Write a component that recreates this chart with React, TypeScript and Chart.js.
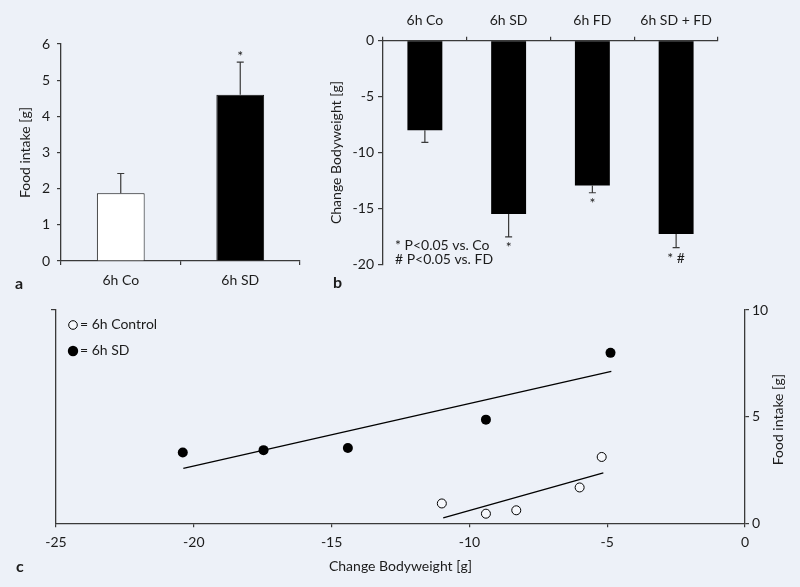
import React, { useEffect, useRef } from "react";
import { Chart, registerables } from "chart.js";

Chart.register(...registerables);

const FONT = "Lato";
const BG = "#edf1f8";
const AXIS = "#3a3a3a";
const TEXT = "#1c1c1c";

// ---- Panel a: food intake ----
const aCategories = ["6h Co", "6h SD"];
const aMeans = [1.87, 4.6];
const aErrors = [0.55, 0.9];
const aSig = ["", "*"];
const aColors = ["#ffffff", "#000000"];

// ---- Panel b: change in bodyweight ----
const bCategories = ["6h Co", "6h SD", "6h FD", "6h SD + FD"];
const bMeans = [-8.0, -15.5, -12.95, -17.3];
const bErrors = [1.1, 2.05, 0.65, 1.2];
const bSig = ["", "*", "*", "* #"];
const bLegend = ["* P<0.05 vs. Co", "# P<0.05 vs. FD"];

// ---- Panel c: correlation ----
const cControlX = [-11.0, -9.4, -8.3, -6.0, -5.2];
const cControlY = [0.93, 0.45, 0.61, 1.68, 3.11];
const cSdX = [-20.4, -17.47, -14.41, -9.4, -4.88];
const cSdY = [3.32, 3.43, 3.53, 4.86, 7.99];
const cControlFitX = [-10.95, -5.14];
const cControlFitY = [0.26, 2.36];
const cSdFitX = [-20.38, -4.85];
const cSdFitY = [2.57, 7.12];
const cLegend = ["= 6h Control", "= 6h SD"];

Chart.defaults.font.family = FONT;
Chart.defaults.color = TEXT;

function barExtras(
  id: string,
  means: number[],
  errors: number[],
  sigs: string[],
  dir: number,
  extra: (ctx: CanvasRenderingContext2D, chart: any) => void
) {
  return {
    id,
    afterDatasetsDraw(chart: any) {
      const ctx: CanvasRenderingContext2D = chart.ctx;
      const meta = chart.getDatasetMeta(0);
      const ys = chart.scales.y;
      ctx.save();
      ctx.strokeStyle = AXIS;
      ctx.lineWidth = 1.2;
      ctx.fillStyle = TEXT;
      ctx.font = `14px ${FONT}`;
      ctx.textAlign = "center";
      ctx.textBaseline = "alphabetic";
      means.forEach((m, i) => {
        const x = meta.data[i].x;
        const y0 = ys.getPixelForValue(m);
        const y1 = ys.getPixelForValue(m + dir * errors[i]);
        ctx.beginPath();
        ctx.moveTo(x, y0);
        ctx.lineTo(x, y1);
        ctx.moveTo(x - 3.5, y1);
        ctx.lineTo(x + 3.5, y1);
        ctx.stroke();
        if (sigs[i]) {
          ctx.fillText(sigs[i], x, dir > 0 ? y1 - 1 : y1 + 15);
        }
      });
      extra(ctx, chart);
      ctx.restore();
    },
  };
}

function PanelA() {
  const ref = useRef<HTMLCanvasElement>(null);
  useEffect(() => {
    const chart = new Chart(ref.current as HTMLCanvasElement, {
      type: "bar",
      data: {
        labels: aCategories,
        datasets: [
          {
            data: aMeans,
            backgroundColor: aColors,
            borderColor: "#111111",
            borderWidth: 1,
            barPercentage: 0.8,
            categoryPercentage: 0.5,
          },
        ],
      },
      options: {
        animation: false,
        responsive: false,
        layout: { padding: { top: 44, right: 10, left: 0, bottom: 0 } },
        plugins: { legend: { display: false }, tooltip: { enabled: false } },
        scales: {
          x: {
            grid: { drawOnChartArea: false, offset: true, tickLength: 4, color: AXIS, lineWidth: 1.2 },
            border: { color: AXIS, width: 1.3 },
            ticks: { color: TEXT, font: { size: 14 }, padding: 7 },
            afterFit: (s: any) => {
              s.height = 39;
            },
          },
          y: {
            min: 0,
            max: 6,
            grid: { drawOnChartArea: false, tickLength: 4, color: AXIS, lineWidth: 1.2 },
            border: { color: AXIS, width: 1.3 },
            ticks: { stepSize: 1, color: TEXT, font: { size: 14 }, padding: 7 },
            title: {
              display: true,
              text: "Food intake [g]",
              color: TEXT,
              font: { size: 14 },
              padding: { top: 17, bottom: 0 },
            },
            afterFit: (s: any) => {
              s.width = 61;
            },
          },
        },
      } as any,
      plugins: [
        barExtras("extrasA", aMeans, aErrors, aSig, 1, (ctx) => {
          ctx.font = `bold 16px ${FONT}`;
          ctx.textAlign = "left";
          ctx.fillText("a", 15, 289);
        }),
      ],
    });
    return () => chart.destroy();
  }, []);
  return <canvas ref={ref} width={310} height={300} style={{ position: "absolute", left: 0, top: 0 }} />;
}

function PanelB() {
  const ref = useRef<HTMLCanvasElement>(null);
  useEffect(() => {
    const chart = new Chart(ref.current as HTMLCanvasElement, {
      type: "bar",
      data: {
        labels: bCategories,
        datasets: [
          {
            data: bMeans,
            backgroundColor: "#000000",
            borderColor: "#000000",
            borderWidth: 0,
            barPercentage: 0.834,
            categoryPercentage: 0.5,
          },
        ],
      },
      options: {
        animation: false,
        responsive: false,
        layout: { padding: { top: 0, right: 22, left: 0, bottom: 35.7 } },
        plugins: { legend: { display: false }, tooltip: { enabled: false } },
        scales: {
          x: {
            position: "top",
            grid: { drawOnChartArea: false, offset: true, tickLength: 4, color: AXIS, lineWidth: 1.2 },
            border: { color: AXIS, width: 1.3 },
            ticks: { color: TEXT, font: { size: 14 }, padding: 8 },
            afterFit: (s: any) => {
              s.height = 40.7;
            },
          },
          y: {
            min: -20,
            max: 0,
            grid: { drawOnChartArea: false, tickLength: 5, color: AXIS, lineWidth: 1.2 },
            border: { color: AXIS, width: 1.3 },
            ticks: { stepSize: 5, color: TEXT, font: { size: 14 }, padding: 4 },
            title: {
              display: true,
              text: "Change Bodyweight [g]",
              color: TEXT,
              font: { size: 14 },
              padding: { top: 28, bottom: 0 },
            },
            afterFit: (s: any) => {
              s.width = 83;
            },
          },
        },
      } as any,
      plugins: [
        barExtras("extrasB", bMeans, bErrors, bSig, -1, (ctx) => {
          ctx.font = `14px ${FONT}`;
          ctx.textAlign = "left";
          ctx.fillText(bLegend[0], 95, 249.5);
          ctx.fillText(bLegend[1], 95, 264);
          ctx.font = `bold 16px ${FONT}`;
          ctx.fillText("b", 33, 288);
        }),
      ],
    });
    return () => chart.destroy();
  }, []);
  return <canvas ref={ref} width={440} height={300} style={{ position: "absolute", left: 300, top: 0 }} />;
}

function PanelC() {
  const ref = useRef<HTMLCanvasElement>(null);
  useEffect(() => {
    const toPts = (xs: number[], ys: number[]) => xs.map((x, i) => ({ x, y: ys[i] }));
    const chart = new Chart(ref.current as HTMLCanvasElement, {
      type: "scatter",
      data: {
        datasets: [
          {
            data: toPts(cControlFitX, cControlFitY),
            showLine: true,
            borderColor: "#000000",
            borderWidth: 1.3,
            pointRadius: 0,
            yAxisID: "y",
          },
          {
            data: toPts(cSdFitX, cSdFitY),
            showLine: true,
            borderColor: "#000000",
            borderWidth: 1.3,
            pointRadius: 0,
            yAxisID: "y",
          },
          {
            data: toPts(cControlX, cControlY),
            pointRadius: 4.5,
            pointBackgroundColor: "#f6f8fc",
            pointBorderColor: "#000000",
            pointBorderWidth: 1,
            yAxisID: "y",
          },
          {
            data: toPts(cSdX, cSdY),
            pointRadius: 5,
            pointBackgroundColor: "#000000",
            pointBorderColor: "#000000",
            pointBorderWidth: 0,
            yAxisID: "y",
          },
        ],
      },
      options: {
        animation: false,
        responsive: false,
        layout: { padding: { top: 15, right: 0, left: 0, bottom: 0 } },
        plugins: { legend: { display: false }, tooltip: { enabled: false } },
        scales: {
          x: {
            type: "linear",
            min: -25,
            max: 0,
            grid: { drawOnChartArea: false, tickLength: 4, color: AXIS, lineWidth: 1.2 },
            border: { color: AXIS, width: 1.3 },
            ticks: { stepSize: 5, color: TEXT, font: { size: 14 }, padding: 7 },
            title: {
              display: true,
              text: "Change Bodyweight [g]",
              color: TEXT,
              font: { size: 14 },
              padding: { top: 0, bottom: 12 },
            },
            afterFit: (s: any) => {
              s.height = 63.7;
            },
          },
          y: {
            position: "right",
            min: 0,
            max: 10,
            grid: { drawOnChartArea: false, tickLength: 4, color: AXIS, lineWidth: 1.2 },
            border: { color: AXIS, width: 1.3 },
            ticks: { stepSize: 5, color: TEXT, font: { size: 14 }, padding: 3 },
            afterFit: (s: any) => {
              s.width = 55;
            },
          },
          yl: {
            position: "left",
            min: 0,
            max: 10,
            grid: {
              drawOnChartArea: false,
              tickLength: 5,
              lineWidth: 1.2,
              color: (c: any) => (c.tick && c.tick.value === 10 ? AXIS : "rgba(0,0,0,0)"),
            },
            border: { color: AXIS, width: 1.3 },
            ticks: { stepSize: 10, display: false },
            afterFit: (s: any) => {
              s.width = 56;
            },
          },
        },
      } as any,
      plugins: [
        {
          id: "extrasC",
          afterDatasetsDraw(ch: any) {
            const ctx: CanvasRenderingContext2D = ch.ctx;
            const area = ch.chartArea;
            ctx.save();
            ctx.fillStyle = TEXT;
            ctx.font = `14px ${FONT}`;
            ctx.textAlign = "left";
            ctx.textBaseline = "alphabetic";
            // legend
            ctx.beginPath();
            ctx.arc(73, 30, 4.3, 0, Math.PI * 2);
            ctx.fillStyle = "#f6f8fc";
            ctx.fill();
            ctx.strokeStyle = "#000000";
            ctx.lineWidth = 1;
            ctx.stroke();
            ctx.beginPath();
            ctx.arc(73, 56, 5.2, 0, Math.PI * 2);
            ctx.fillStyle = "#000000";
            ctx.fill();
            ctx.fillStyle = TEXT;
            ctx.fillText(cLegend[0], 80, 33.5);
            ctx.fillText(cLegend[1], 80, 60);
            // right axis title
            ctx.save();
            ctx.translate(778, (area.top + area.bottom) / 2 + 3);
            ctx.rotate(-Math.PI / 2);
            ctx.textAlign = "center";
            ctx.textBaseline = "middle";
            ctx.fillText("Food intake [g]", 0, 0);
            ctx.restore();
            // panel letter
            ctx.font = `bold 16px ${FONT}`;
            ctx.fillText("c", 16, 277);
            ctx.restore();
          },
        },
      ],
    });
    return () => chart.destroy();
  }, []);
  return <canvas ref={ref} width={800} height={292} style={{ position: "absolute", left: 0, top: 295 }} />;
}

export default function App() {
  useEffect(() => {
    document.body.style.margin = "0";
    document.body.style.background = BG;
  }, []);
  return (
    <div
      style={{
        position: "absolute",
        left: 0,
        top: 0,
        width: 800,
        height: 587,
        background: BG,
        overflow: "hidden",
        fontFamily: FONT,
      }}
    >
      <PanelA />
      <PanelB />
      <PanelC />
    </div>
  );
}
